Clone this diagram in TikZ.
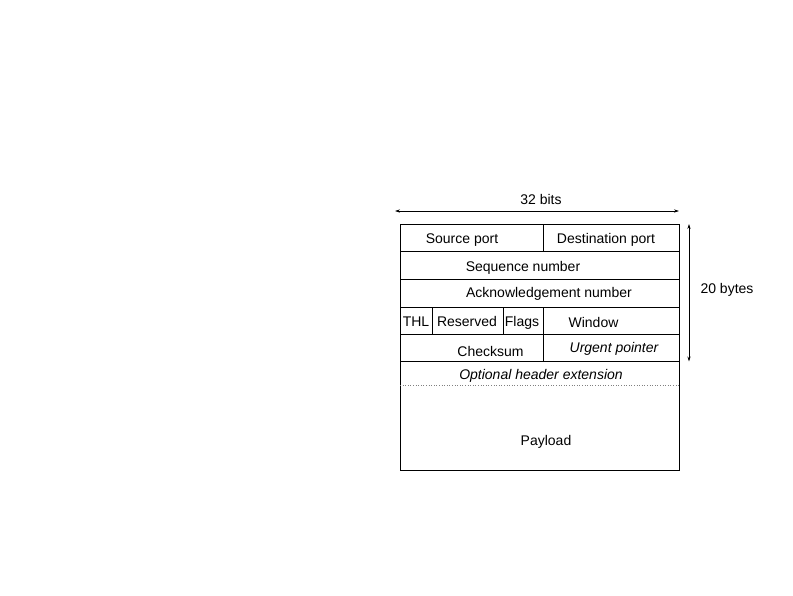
\documentclass[tikz,border=0pt]{standalone}
\usepackage{fontspec}
\setmainfont{Liberation Sans}
\usetikzlibrary{arrows.meta}

\begin{document}
\begin{tikzpicture}[
    x=1pt, y=-1pt,
    every node/.style={font=\fontsize{14}{16}\selectfont, inner sep=0pt, anchor=base},
    grid/.style={line width=0.8pt},
    opt/.style={font=\fontsize{14}{16}\selectfont\itshape},
    dim/.style={{Stealth[length=5pt,width=3.2pt]}-{Stealth[length=5pt,width=3.2pt]}, line width=0.6pt}
]
    \useasboundingbox (0,0) rectangle (793,595);

    % corners of the header
    \coordinate (tl) at (400,224);
    \coordinate (br) at (679,470);

    % grid of fields
    \draw[grid] (tl) rectangle (br);
    \foreach \y in {251,279,307,334,361.5}
        \draw[grid] (400,\y) -- (679,\y);
    \draw[grid] (543,224) -- (543,251);
    \draw[grid] (432,307) -- (432,334);
    \draw[grid] (503,307) -- (503,334);
    \draw[grid] (543,307) -- (543,361.5);
    \draw[gray, dotted, line width=0.6pt] (400,385) -- (679,385);

    % field labels
    \node (src) at (462,243) {Source port};
    \node (dst) at (606,243) {Destination port};
    \node (seq) at (523,271) {Sequence number};
    \node (ack) at (549,297.5) {Acknowledgement number};
    \node (thl) at (416,326.5) {THL};
    \node (res) at (467,326.5) {Reserved};
    \node (flg) at (522,326.5) {Flags};
    \node (win) at (593.5,327.3) {Window};
    \node (chk) at (490.5,356.3) {Checksum};
    \node[opt] (urg) at (614,352.7) {Urgent pointer};
    \node[opt] (ext) at (541,379) {Optional header extension};
    \node (pay) at (546,445) {Payload};

    % dimensions
    \coordinate (wl) at (395,211);
    \coordinate (wr) at (679,211);
    \coordinate (ht) at (689,224);
    \coordinate (hb) at (689,361.5);
    \draw[dim] (wl) -- (wr);
    \draw[dim] (ht) -- (hb);
    \node (bits) at (541,204) {32 bits};
    \node (bytes) at (727,293.3) {20 bytes};
\end{tikzpicture}
\end{document}
